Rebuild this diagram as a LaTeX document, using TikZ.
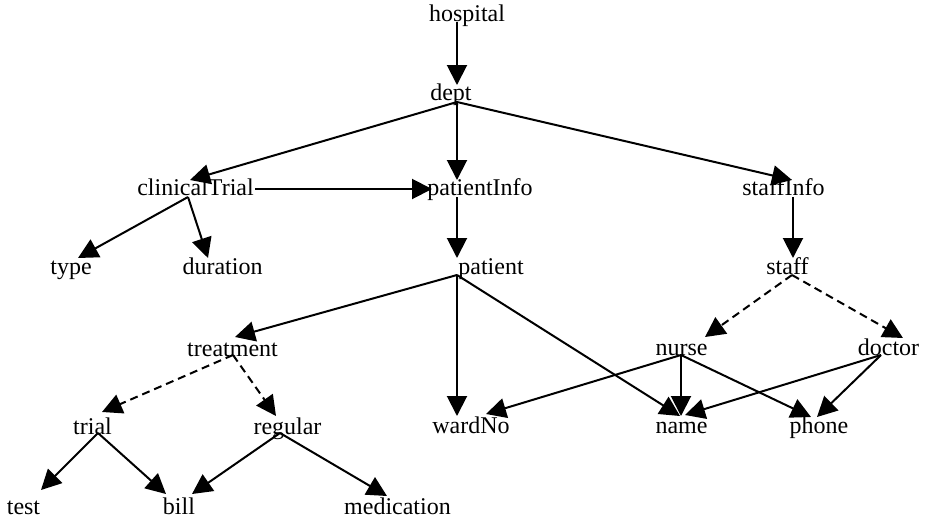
\documentclass[tikz,border=0pt]{standalone}
\usepackage{fontspec}
\setmainfont{Liberation Serif}
\usetikzlibrary{arrows.meta}
\begin{document}
\begin{tikzpicture}[x=1pt,y=-1pt,
  lbl/.style={inner sep=0pt,anchor=base,font=\fontsize{24}{28}\selectfont},
  edge/.style={line width=2pt,-{Triangle[length=20pt,width=20pt]}},
  isa/.style={edge,dash pattern=on 8pt off 5pt}]
\useasboundingbox (0,0) rectangle (930,520);
% text nodes
\node[lbl] (hospital) at (467,21) {hospital};
\node[lbl] (dept) at (451,100) {dept};
\node[lbl] (clinicalTrial) at (195.5,195) {clinicalTrial};
\node[lbl] (patientInfo) at (480,195) {patientInfo};
\node[lbl] (staffInfo) at (783.5,195) {staffInfo};
\node[lbl] (type) at (71,274) {type};
\node[lbl] (duration) at (222.5,274) {duration};
\node[lbl] (patient) at (491,274) {patient};
\node[lbl] (staff) at (787.5,274) {staff};
\node[lbl] (treatment) at (232.5,356) {treatment};
\node[lbl] (nurse) at (681.5,355) {nurse};
\node[lbl] (doctor) at (888.5,355) {doctor};
\node[lbl] (trial) at (92.5,434) {trial};
\node[lbl] (regular) at (287.5,434) {regular};
\node[lbl] (wardNo) at (471,433) {wardNo};
\node[lbl] (name) at (681.5,433) {name};
\node[lbl] (phone) at (819,433) {phone};
\node[lbl] (test) at (23.5,514) {test};
\node[lbl] (bill) at (179,514) {bill};
\node[lbl] (medication) at (397.5,514) {medication};
% connection points
\coordinate (hospital-o) at (457,22);
\coordinate (dept-i) at (457,85);
\coordinate (dept-o) at (457,102);
\coordinate (clinicalTrial-i) at (190,180);
\coordinate (clinicalTrial-o) at (188,197);
\coordinate (clinicalTrial-e) at (255,189);
\coordinate (patientInfo-w) at (432,189);
\coordinate (patientInfo-i) at (457,180);
\coordinate (patientInfo-o) at (457,197);
\coordinate (staffInfo-i) at (792,180);
\coordinate (staffInfo-o) at (793,197);
\coordinate (type-i) at (78,258);
\coordinate (duration-i) at (208,258);
\coordinate (patient-i) at (457,258);
\coordinate (patient-o) at (457,275);
\coordinate (staff-i) at (793,258);
\coordinate (staff-o) at (792,275);
\coordinate (treatment-i) at (235,337);
\coordinate (treatment-o) at (233,355);
\coordinate (nurse-i) at (705,337);
\coordinate (nurse-o) at (681,355);
\coordinate (doctor-i) at (903,338);
\coordinate (doctor-o) at (881,355);
\coordinate (wardNo-i1) at (457,416);
\coordinate (wardNo-i2) at (486,414);
\coordinate (name-i1) at (680,416);
\coordinate (name-i2) at (681,416);
\coordinate (name-i3) at (685,415);
\coordinate (phone-i1) at (811,417);
\coordinate (phone-i2) at (817,417);
\coordinate (trial-i) at (102,412);
\coordinate (trial-o) at (98,433);
\coordinate (regular-i) at (276,416);
\coordinate (regular-o) at (280,433);
\coordinate (test-i) at (41,490);
\coordinate (bill-i1) at (166,494);
\coordinate (bill-i2) at (192,494);
\coordinate (medication-i) at (387,496);
% connectors
\draw[edge] (hospital-o) -- (dept-i);
\draw[edge] (dept-o) -- (clinicalTrial-i);
\draw[edge] (dept-o) -- (patientInfo-i);
\draw[edge] (dept-o) -- (staffInfo-i);
\draw[edge] (clinicalTrial-e) -- (patientInfo-w);
\draw[edge] (clinicalTrial-o) -- (type-i);
\draw[edge] (clinicalTrial-o) -- (duration-i);
\draw[edge] (patientInfo-o) -- (patient-i);
\draw[edge] (staffInfo-o) -- (staff-i);
\draw[edge] (patient-o) -- (treatment-i);
\draw[edge] (patient-o) -- (wardNo-i1);
\draw[edge] (patient-o) -- (name-i1);
\draw[isa] (staff-o) -- (nurse-i);
\draw[isa] (staff-o) -- (doctor-i);
\draw[isa] (treatment-o) -- (trial-i);
\draw[isa] (treatment-o) -- (regular-i);
\draw[edge] (nurse-o) -- (wardNo-i2);
\draw[edge] (nurse-o) -- (name-i2);
\draw[edge] (nurse-o) -- (phone-i1);
\draw[edge] (doctor-o) -- (name-i3);
\draw[edge] (doctor-o) -- (phone-i2);
\draw[edge] (trial-o) -- (test-i);
\draw[edge] (trial-o) -- (bill-i1);
\draw[edge] (regular-o) -- (bill-i2);
\draw[edge] (regular-o) -- (medication-i);
\end{tikzpicture}
\end{document}
